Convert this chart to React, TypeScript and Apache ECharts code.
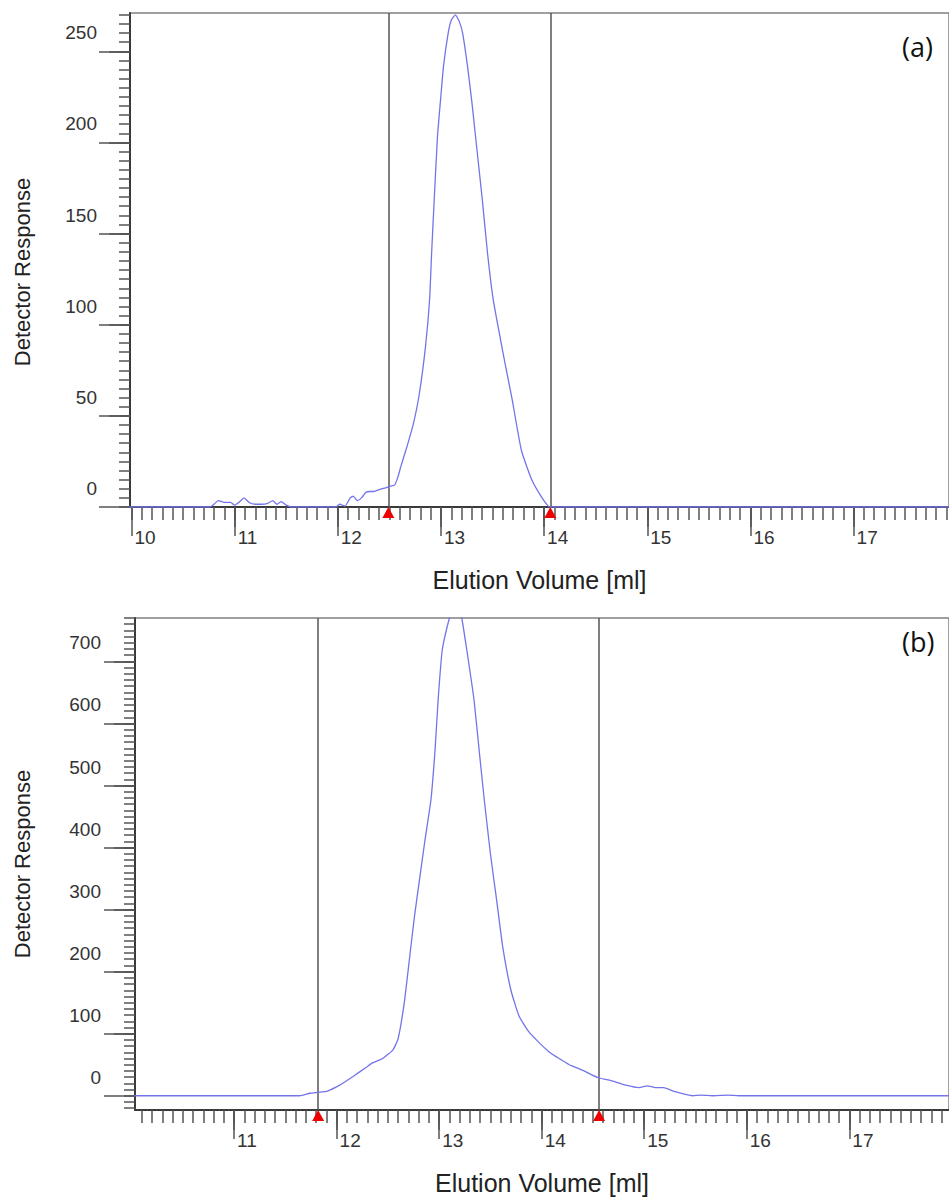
import React, { useEffect, useRef } from "react";
import * as echarts from "echarts";

// ---- Data ----
const volumeA = [9.98, 10.6, 10.76, 10.8, 10.84, 10.9, 10.96, 11.0, 11.05, 11.09, 11.14, 11.2, 11.26, 11.32, 11.37, 11.41, 11.45, 11.5, 11.55, 11.98, 12.02, 12.07, 12.12, 12.15, 12.19, 12.23, 12.27, 12.31, 12.35, 12.4, 12.45, 12.51, 12.55, 12.58, 12.61, 12.64, 12.67, 12.73, 12.79, 12.85, 12.89, 12.91, 12.935, 12.967, 13.0, 13.025, 13.07, 13.1, 13.14, 13.18, 13.21, 13.257, 13.3, 13.33, 13.4, 13.45, 13.506, 13.6, 13.69, 13.78, 13.88, 13.98, 14.04, 14.06, 17.95];
const responseA = [0, 0, 0, 1.5, 3.5, 2.5, 2.5, 1, 3, 5, 2.5, 1.5, 1.5, 2, 3.5, 1.5, 3, 1, 0, 0, 1.5, 0.5, 5, 6, 3.5, 5, 8, 8.5, 8.5, 9.5, 10.3, 11.5, 12, 16, 22, 27.6, 33, 45, 62, 88, 114, 140, 169, 204, 226, 242, 260, 267, 270, 266, 260, 242, 222, 206, 169, 140, 114, 85, 59, 31, 15, 5, 0.5, 0, 0];

const volumeB = [10.03, 11.64, 11.74, 11.82, 11.91, 12.03, 12.16, 12.29, 12.35, 12.45, 12.55, 12.6, 12.66, 12.71, 12.76, 12.81, 12.86, 12.92, 12.96, 12.99, 13.03, 13.1, 13.16, 13.22, 13.27, 13.34, 13.39, 13.44, 13.5, 13.56, 13.62, 13.7, 13.78, 13.87, 13.96, 14.07, 14.17, 14.27, 14.4, 14.55, 14.66, 14.82, 14.95, 15.03, 15.11, 15.19, 15.3, 15.47, 15.56, 15.66, 15.82, 15.92, 18.0];
const responseB = [0, 0, 4, 5.5, 7.5, 17, 31, 46, 53, 60, 74, 92, 150, 220, 290, 350, 410, 477, 557, 638, 718, 770, 800, 770, 718, 638, 557, 477, 390, 316, 240, 170, 128, 104, 88, 71, 60, 50, 41, 29, 25, 17, 13, 16, 13, 13, 6.5, 0, 1, 0, 1, 0, 0];

// integration limits (vertical lines with red markers)
const limitsA = [12.49, 14.06];
const limitsB = [11.82, 14.56];

// tick labels
const xTickLabels = [10, 11, 12, 13, 14, 15, 16, 17];
const yTickLabelsA = [0, 50, 100, 150, 200, 250];
const yTickLabelsB = [0, 100, 200, 300, 400, 500, 600, 700];

const panelLabels = ["(a)", "(b)"];
const xTitle = "Elution Volume [ml]";
const yTitle = "Detector Response";

// ---- helpers ----
function steps(start: number, end: number, step: number): number[] {
  const out: number[] = [];
  const i0 = Math.ceil(start / step - 1e-9);
  for (let i = i0; i * step <= end + 1e-9; i++) out.push(+(i * step).toFixed(4));
  return out;
}

const FONT = "Liberation Sans, Arial, sans-serif";
const LINE_BLUE = "#7474ea";
const AXIS_DARK = "#3a3a3a";
const TICK = "#555";

function makeXAxes(gridIndex: number, min: number, max: number) {
  const inside = (v: number) => v >= min - 1e-9 && v <= max + 1e-9;
  const major = xTickLabels.filter(inside);
  const medium = steps(10.5, 17.5, 1).filter(inside);
  const minor = steps(10, 18, 0.1).filter(inside);
  const base = { type: "value", gridIndex, min, max, position: "bottom", splitLine: { show: false } };
  return [
    {
      ...base,
      axisLine: { show: true, onZero: false, lineStyle: { color: AXIS_DARK, width: 2 } },
      axisTick: { show: true, customValues: major, length: 29, lineStyle: { color: TICK, width: 1.5 } },
      axisLabel: { show: true, customValues: major, margin: 21, align: "left", padding: [0, 0, 0, 3], fontSize: 19, color: "#333", fontFamily: FONT },
      name: xTitle,
      nameLocation: "middle",
      nameGap: 60,
      nameTextStyle: { fontSize: 25, color: "#222", fontFamily: FONT },
    },
    {
      ...base,
      axisLine: { show: false, onZero: false },
      axisTick: { show: true, customValues: medium, length: 20, lineStyle: { color: TICK, width: 1.5 } },
      axisLabel: { show: false },
    },
    {
      ...base,
      axisLine: { show: false, onZero: false },
      axisTick: { show: true, customValues: minor, length: 13, lineStyle: { color: TICK, width: 1.5 } },
      axisLabel: { show: false },
    },
  ];
}

function makeYAxes(gridIndex: number, min: number, max: number, labels: number[], mediumStep: number, minorStep: number, margin: number, nameGap: number, namePad: number[]) {
  const inside = (v: number) => v >= min - 1e-9 && v <= max + 1e-9;
  const major = labels;
  const medium = steps(mediumStep, max, mediumStep * 2).filter(inside);
  const minor = steps(min, max, minorStep).filter(inside);
  const base = { type: "value", gridIndex, min, max, position: "left", splitLine: { show: false } };
  return [
    {
      ...base,
      axisLine: { show: true, onZero: false, lineStyle: { color: AXIS_DARK, width: 2 } },
      axisTick: { show: true, customValues: major, length: 31, lineStyle: { color: TICK, width: 1.5 } },
      axisLabel: { show: true, customValues: major, margin, verticalAlign: "bottom", padding: [0, 0, 9, 0], fontSize: 19, color: "#333", fontFamily: FONT },
      name: yTitle,
      nameLocation: "middle",
      nameGap,
      nameRotate: 90,
      nameTextStyle: { fontSize: 22, color: "#222", fontFamily: FONT, padding: namePad },
    },
    {
      ...base,
      axisLine: { show: false, onZero: false },
      axisTick: { show: true, customValues: medium, length: 21, lineStyle: { color: TICK, width: 1.5 } },
      axisLabel: { show: false },
    },
    {
      ...base,
      axisLine: { show: false, onZero: false },
      axisTick: { show: true, customValues: minor, length: 11, lineStyle: { color: TICK, width: 1.5 } },
      axisLabel: { show: false },
    },
  ];
}

function makeSeries(xIdx: number, yIdx: number, vols: number[], resp: number[], limits: number[], yMin: number) {
  return {
    type: "line",
    xAxisIndex: xIdx,
    yAxisIndex: yIdx,
    data: vols.map((v, i) => [v, resp[i]]),
    showSymbol: false,
    symbol: "none",
    clip: true,
    smooth: 0.15,
    lineStyle: { color: LINE_BLUE, width: 1.3 },
    z: 5,
    markLine: {
      silent: true,
      symbol: ["none", "none"],
      label: { show: false },
      lineStyle: { color: "#555", width: 1.5, type: "solid" },
      data: limits.map((x) => ({ xAxis: x })),
    },
    markPoint: {
      silent: true,
      symbol: "triangle",
      symbolSize: [12, 11],
      symbolOffset: [0, 5.5],
      itemStyle: { color: "#ee0000" },
      label: { show: false },
      data: limits.map((x) => ({ coord: [x, yMin] })),
    },
  };
}

const yMinA = 0, yMaxA = 271;
const yMinB = -23, yMaxB = 770;

const option: any = {
  animation: false,
  backgroundColor: "#ffffff",
  grid: [
    { left: 130, top: 13, right: -2, height: 494, show: true, borderColor: "#808080", borderWidth: 1.5, backgroundColor: "transparent" },
    { left: 135, top: 618, right: -2, height: 492, show: true, borderColor: "#808080", borderWidth: 1.5, backgroundColor: "transparent" },
  ],
  xAxis: [...makeXAxes(0, 9.9855, 17.925), ...makeXAxes(1, 10.034, 17.972)],
  yAxis: [
    ...makeYAxes(0, yMinA, yMaxA, yTickLabelsA, 25, 5, 33, 97, [0, 24, 0, 0]),
    ...makeYAxes(1, yMinB, yMaxB, yTickLabelsB, 50, 10, 34, 102, [0, 0, 0, 0]),
  ],
  series: [
    makeSeries(0, 0, volumeA, responseA, limitsA, yMinA),
    makeSeries(3, 3, volumeB, responseB, limitsB, yMinB),
  ],
  graphic: [
    { type: "text", left: 902, top: 33, style: { text: panelLabels[0], fontSize: 27, fill: "#111", fontFamily: "Open Sans, Noto Sans, sans-serif" } },
    { type: "text", left: 902, top: 628, style: { text: panelLabels[1], fontSize: 27, fill: "#111", fontFamily: "Open Sans, Noto Sans, sans-serif" } },
  ],
};

export default function App() {
  const ref = useRef<HTMLDivElement>(null);
  useEffect(() => {
    const chart = echarts.init(ref.current!, null, { renderer: "svg" });
    chart.setOption(option);
    return () => chart.dispose();
  }, []);
  return (
    <div
      ref={ref}
      style={{ position: "absolute", left: 0, top: 0, width: 949, height: 1200, background: "#fff" }}
    />
  );
}
